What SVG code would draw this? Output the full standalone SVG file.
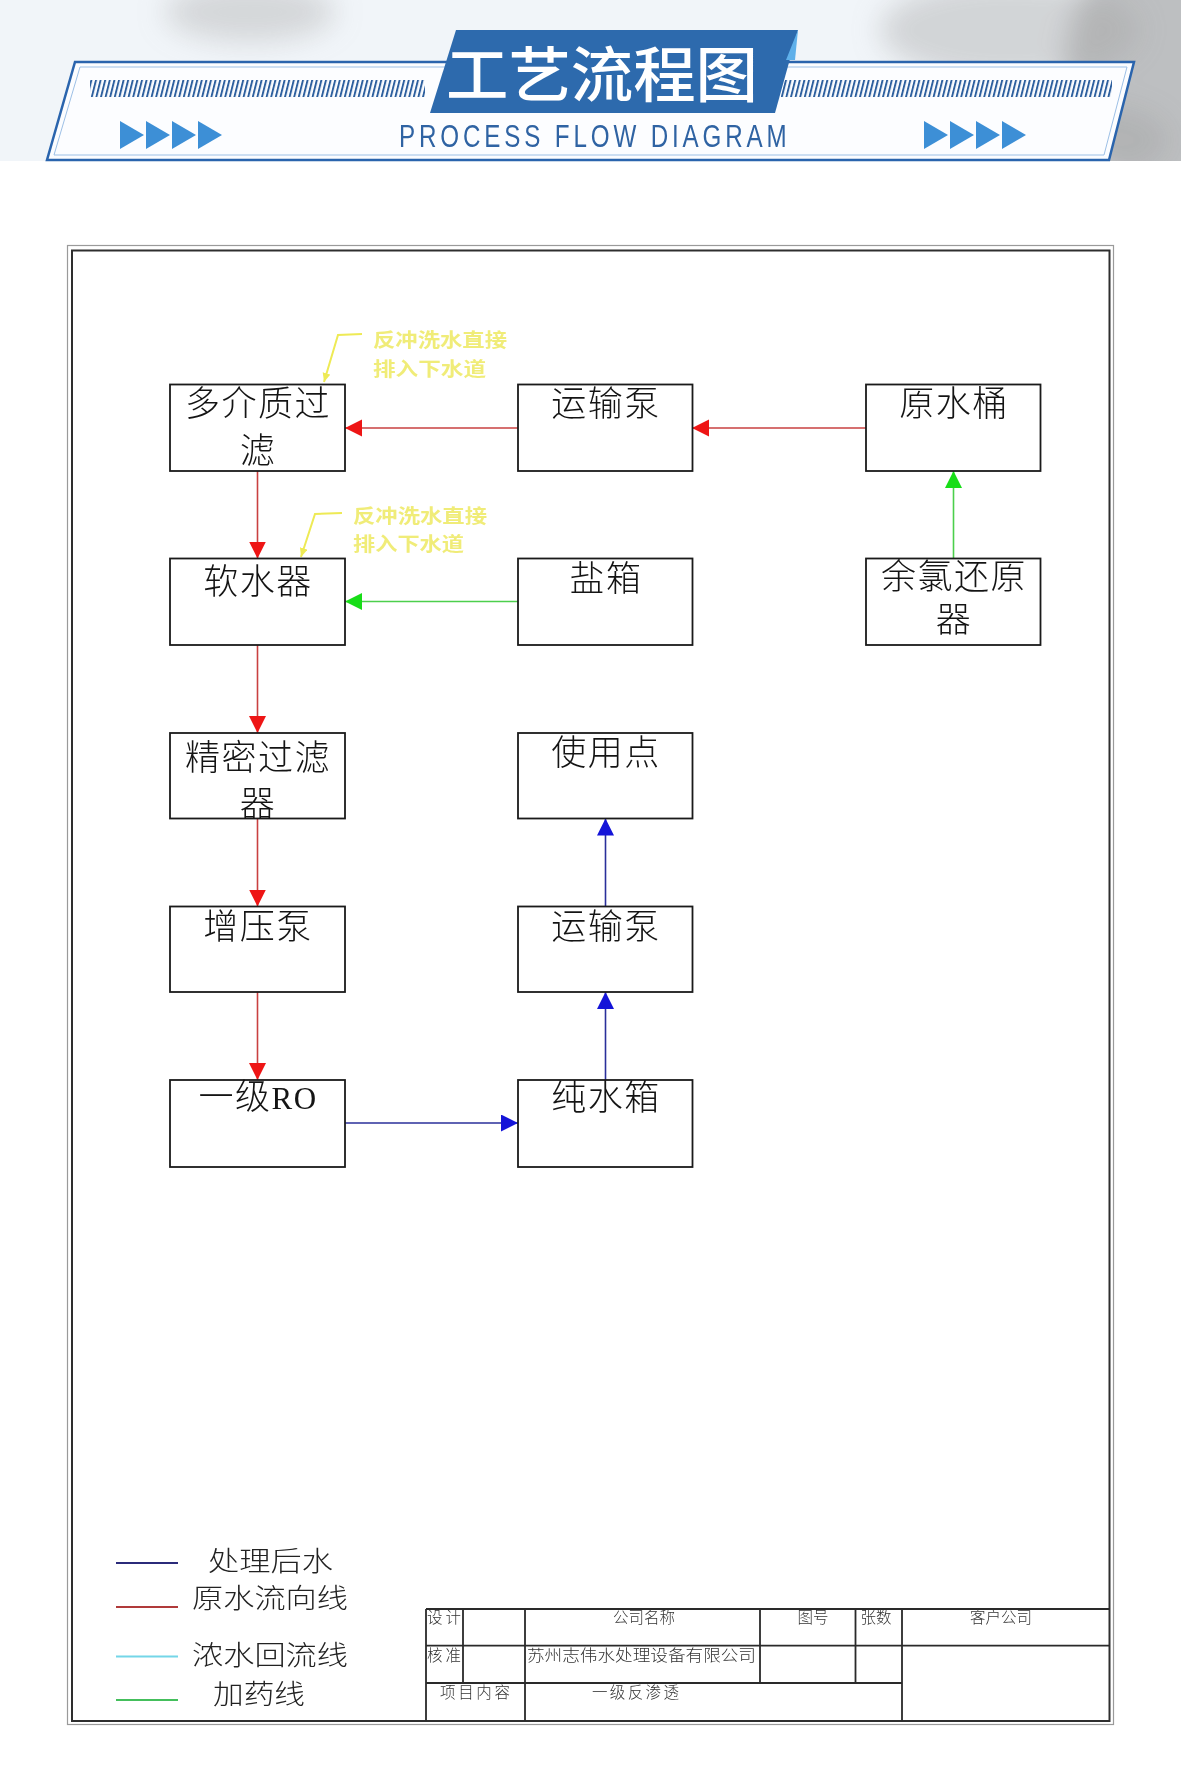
<svg xmlns="http://www.w3.org/2000/svg" width="1181" height="1766" viewBox="0 0 1181 1766">
<style>
.box{fill:#fff;stroke:#1a1a1a;stroke-width:1.8}
.bt{font-family:"Liberation Serif","Noto Sans CJK SC",serif;font-size:35px;font-weight:300;fill:#141414;text-anchor:middle;letter-spacing:1.5px}
.lg{font-family:"Noto Sans CJK SC",sans-serif;font-size:27px;font-weight:300;fill:#222}
.tb{font-family:"Noto Sans CJK SC",sans-serif;font-size:15.5px;font-weight:300;fill:#333}
.tc{text-anchor:middle}
.yl{font-family:"Noto Sans CJK SC",sans-serif;font-size:19px;font-weight:700;fill:#f0ec78}
.red{stroke:#c94040;stroke-width:1.6;fill:none}
.grn{stroke:#4ccf4c;stroke-width:1.6;fill:none}
.blu{stroke:#2a2f9a;stroke-width:1.6;fill:none}
.tl{stroke:#2a2a2a;stroke-width:1.8;fill:none}
</style>
<defs>
<marker id="ar" markerUnits="userSpaceOnUse" markerWidth="18" markerHeight="18" refX="17" refY="8.5" orient="auto"><path d="M0,0 L17,8.5 L0,17 z" fill="#ee1515"/></marker>
<marker id="ag" markerUnits="userSpaceOnUse" markerWidth="18" markerHeight="18" refX="17" refY="8.5" orient="auto"><path d="M0,0 L17,8.5 L0,17 z" fill="#18dd18"/></marker>
<marker id="ab" markerUnits="userSpaceOnUse" markerWidth="18" markerHeight="18" refX="17" refY="8.5" orient="auto"><path d="M0,0 L17,8.5 L0,17 z" fill="#1414d8"/></marker>
<marker id="ay" markerUnits="userSpaceOnUse" markerWidth="10" markerHeight="10" refX="9" refY="4" orient="auto"><path d="M0,0 L9,4 L0,8 z" fill="#eeea55"/></marker>
<pattern id="hatch" patternUnits="userSpaceOnUse" width="4.6" height="20" patternTransform="skewX(-14)"><rect x="0" y="0" width="2" height="20" fill="#2d5f9e"/></pattern>
<filter id="blur" x="-50%" y="-50%" width="200%" height="200%"><feGaussianBlur stdDeviation="14"/></filter>
<filter id="soft"><feGaussianBlur stdDeviation="0.5"/></filter>
<clipPath id="hdr"><rect x="0" y="0" width="1181" height="161"/></clipPath>
</defs>

<rect x="0" y="0" width="1181" height="1766" fill="#ffffff"/>

<g id="header">
<rect x="0" y="0" width="1181" height="161" fill="#f1f5f9"/>
<g clip-path="url(#hdr)" filter="url(#blur)">
<ellipse cx="1160" cy="70" rx="95" ry="130" fill="#8a8a8a" opacity="0.5"/>
<ellipse cx="1010" cy="30" rx="130" ry="50" fill="#a5a5a5" opacity="0.4"/>
<ellipse cx="1100" cy="140" rx="70" ry="35" fill="#9c9c9c" opacity="0.35"/>
<ellipse cx="250" cy="12" rx="85" ry="30" fill="#aaaaaa" opacity="0.4"/>
</g>
<polygon points="75,62 1134,62 1109,160 47,160" fill="#fcfdff" stroke="#2a64ad" stroke-width="2.5"/>
<polygon points="80,67 1127,67 1104,155 54,155" fill="none" stroke="#9dc0e6" stroke-width="1"/>
<rect x="90" y="80" width="335" height="17" fill="url(#hatch)"/>
<rect x="781" y="80" width="331" height="17" fill="url(#hatch)"/>
<polygon points="456,30 798,30 775,113 430,113" fill="#2d6aad"/>
<polygon points="798,30 786,60 795,60" fill="#5fb0ea"/>
<text x="446" y="97" font-family="Noto Sans CJK SC,sans-serif" font-size="60" font-weight="500" fill="#ffffff" textLength="312" lengthAdjust="spacingAndGlyphs">工艺流程图</text>
<text transform="translate(399,147) scale(0.78,1)" x="0" y="0" font-family="Liberation Sans,sans-serif" font-size="31" fill="#2f63a3" textLength="497" lengthAdjust="spacing">PROCESS FLOW DIAGRAM</text>
<g fill="#3d8fd6">
<polygon points="120,121 144,135 120,149"/><polygon points="146,121 170,135 146,149"/><polygon points="172,121 196,135 172,149"/><polygon points="198,121 222,135 198,149"/>
<polygon points="924,121 948,135 924,149"/><polygon points="950,121 974,135 950,149"/><polygon points="976,121 1000,135 976,149"/><polygon points="1002,121 1026,135 1002,149"/>
</g>
</g>

<g id="frame">
<rect x="67.5" y="245.5" width="1046" height="1479" fill="none" stroke="#9a9a9a" stroke-width="1.2"/>
<rect x="72" y="250.5" width="1037.5" height="1470.5" fill="none" stroke="#2e2e2e" stroke-width="2"/>
</g>

<g id="connectors">
<line class="red" x1="866" y1="428" x2="692" y2="428" marker-end="url(#ar)"/>
<line class="red" x1="518" y1="428" x2="345" y2="428" marker-end="url(#ar)"/>
<line class="red" x1="257.5" y1="471" x2="257.5" y2="558.5" marker-end="url(#ar)"/>
<line class="red" x1="257.5" y1="645" x2="257.5" y2="733" marker-end="url(#ar)"/>
<line class="red" x1="257.5" y1="818.5" x2="257.5" y2="906.5" marker-end="url(#ar)"/>
<line class="red" x1="257.5" y1="992" x2="257.5" y2="1080" marker-end="url(#ar)"/>
<line class="grn" x1="518" y1="601.5" x2="345" y2="601.5" marker-end="url(#ag)"/>
<line class="grn" x1="953.5" y1="558.5" x2="953.5" y2="471" marker-end="url(#ag)"/>
<line class="blu" x1="345" y1="1123" x2="518" y2="1123" marker-end="url(#ab)"/>
<line class="blu" x1="605.5" y1="1080" x2="605.5" y2="992" marker-end="url(#ab)"/>
<line class="blu" x1="605.5" y1="906.5" x2="605.5" y2="818.5" marker-end="url(#ab)"/>
<polyline points="362,334 338,335 324,382" stroke="#eeea55" stroke-width="2" fill="none" marker-end="url(#ay)"/>
<polyline points="342,513 315,514 301,557" stroke="#eeea55" stroke-width="2" fill="none" marker-end="url(#ay)"/>
</g>

<g id="note1" filter="url(#soft)"><text class="yl" x="373" y="347" textLength="134" lengthAdjust="spacingAndGlyphs">反冲洗水直接</text><text class="yl" x="373" y="376" textLength="113" lengthAdjust="spacingAndGlyphs">排入下水道</text></g>
<g id="note2" filter="url(#soft)"><text class="yl" x="353" y="523" textLength="134" lengthAdjust="spacingAndGlyphs">反冲洗水直接</text><text class="yl" x="353" y="551" textLength="111" lengthAdjust="spacingAndGlyphs">排入下水道</text></g>

<g id="n-multimedia"><rect class="box" x="170" y="384.5" width="175" height="86.5"/><text class="bt" x="258" y="416">多介质过</text><text class="bt" x="258" y="463">滤</text></g>
<g id="n-pump1"><rect class="box" x="518" y="384.5" width="174.5" height="86.5"/><text class="bt" x="606" y="415.5">运输泵</text></g>
<g id="n-rawtank"><rect class="box" x="866" y="384.5" width="174.5" height="86.5"/><text class="bt" x="954" y="416">原水桶</text></g>
<g id="n-softener"><rect class="box" x="170" y="558.5" width="175" height="86.5"/><text class="bt" x="258" y="594">软水器</text></g>
<g id="n-salt"><rect class="box" x="518" y="558.5" width="174.5" height="86.5"/><text class="bt" x="606" y="591">盐箱</text></g>
<g id="n-dechlor"><rect class="box" x="866" y="558.5" width="174.5" height="86.5"/><text class="bt" x="954" y="589">余氯还原</text><text class="bt" x="954" y="632">器</text></g>
<g id="n-precision"><rect class="box" x="170" y="733" width="175" height="85.5"/><text class="bt" x="258" y="770">精密过滤</text><text class="bt" x="258" y="816">器</text></g>
<g id="n-use"><rect class="box" x="518" y="733" width="174.5" height="85.5"/><text class="bt" x="606" y="765">使用点</text></g>
<g id="n-booster"><rect class="box" x="170" y="906.5" width="175" height="85.5"/><text class="bt" x="258" y="939">增压泵</text></g>
<g id="n-pump2"><rect class="box" x="518" y="906.5" width="174.5" height="85.5"/><text class="bt" x="606" y="939">运输泵</text></g>
<g id="n-ro"><rect class="box" x="170" y="1080" width="175" height="87"/><text class="bt" x="258" y="1109">一级<tspan font-size="31">RO</tspan></text></g>
<g id="n-puretank"><rect class="box" x="518" y="1080" width="174.5" height="87"/><text class="bt" x="606" y="1110">纯水箱</text></g>

<g id="legend">
<line x1="116" y1="1563" x2="178" y2="1563" stroke="#2b2b7a" stroke-width="2"/>
<line x1="116" y1="1607" x2="178" y2="1607" stroke="#b03a3a" stroke-width="2"/>
<line x1="116" y1="1656.5" x2="178" y2="1656.5" stroke="#74d6e8" stroke-width="2"/>
<line x1="116" y1="1700" x2="178" y2="1700" stroke="#44bf5c" stroke-width="2"/>
<text class="lg" x="208" y="1571" textLength="125" lengthAdjust="spacingAndGlyphs">处理后水</text>
<text class="lg" x="192" y="1608" textLength="156" lengthAdjust="spacingAndGlyphs">原水流向线</text>
<text class="lg" x="192" y="1665" textLength="156" lengthAdjust="spacingAndGlyphs">浓水回流线</text>
<text class="lg" x="213" y="1704" textLength="92" lengthAdjust="spacingAndGlyphs">加药线</text>
</g>

<g id="titleblock">
<path class="tl" d="M426,1609 H1109.5 M426,1645.7 H1109.5 M426,1683 H902 M426,1609 V1721 M463,1609 V1683 M525,1609 V1721 M760,1609 V1683 M855.5,1609 V1683 M902,1609 V1721"/>
<text class="tb" x="427" y="1623" textLength="34">设计</text>
<text class="tb tc" x="644" y="1623">公司名称</text>
<text class="tb tc" x="813" y="1623">图号</text>
<text class="tb tc" x="876" y="1623">张数</text>
<text class="tb tc" x="1001" y="1623">客户公司</text>
<text class="tb" x="427" y="1661" textLength="34">核准</text>
<text class="tb" x="527" y="1661" textLength="229" lengthAdjust="spacingAndGlyphs">苏州志伟水处理设备有限公司</text>
<text class="tb" x="440" y="1698" textLength="70">项目内容</text>
<text class="tb" x="592" y="1698" textLength="87">一级反渗透</text>
</g>
</svg>
